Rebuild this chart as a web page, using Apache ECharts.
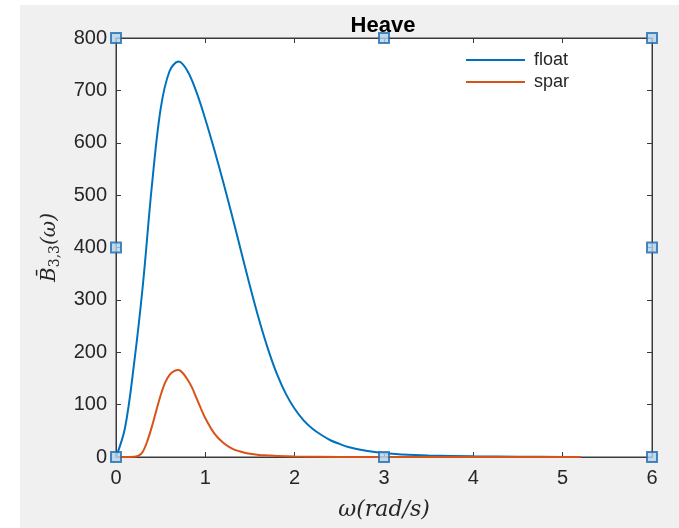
<!DOCTYPE html>
<html>
<head>
<meta charset="utf-8">
<script src="https://cdn.jsdelivr.net/npm/echarts@6/dist/echarts.min.js"></script>
<style>
  html, body { margin: 0; padding: 0; background: #fff; }
  #panel { position: absolute; left: 20px; top: 5px; width: 659px; height: 523px; background: #f0f0f0; }
  #chart { position: absolute; left: 0; top: 0; width: 679px; height: 528px; }
</style>
</head>
<body>
<div id="panel"></div>
<div id="chart"></div>
<script>
// float curve (omega, B33)
var floatX = [0, 0.1, 0.2, 0.3, 0.4, 0.5, 0.6, 0.7, 0.8, 0.9, 1.0, 1.1, 1.2, 1.3, 1.4, 1.5, 1.6, 1.7, 1.8, 1.9, 2.0, 2.1, 2.2, 2.3, 2.4, 2.5, 2.6, 2.8, 3.0, 3.2, 3.5, 4.0, 4.5, 5.0, 5.2]
var floatY = [0, 55, 175, 327, 515, 665, 737, 755, 737, 697, 645, 587, 525, 460, 393, 326, 263, 207, 159, 121, 92, 70, 54, 42, 32, 25, 19, 12, 7.5, 5, 3, 1.2, 0.5, 0.2, 0.1]
// spar curve
var sparX = [0, 0.1, 0.2, 0.25, 0.3, 0.35, 0.4, 0.45, 0.5, 0.55, 0.6, 0.65, 0.7, 0.75, 0.8, 0.85, 0.9, 0.95, 1.0, 1.1, 1.2, 1.3, 1.4, 1.5, 1.6, 1.7, 1.8, 2.0, 2.5, 3.0, 4.0, 5.0, 5.2]
var sparY = [0, 0, 0.5, 2, 10, 30, 57, 88, 118, 142, 157, 164, 166, 160, 148, 133, 113, 93, 74, 45, 27, 16, 10, 6, 4, 3, 2, 1, 0.2, 0, 0, 0, 0]
// figure edit handles (axes corners / mid-edges)
var handles = [[0, 0], [3, 0], [6, 0], [0, 400], [6, 400], [0, 800], [3, 800], [6, 800]]

var xTicks = [0, 1, 2, 3, 4, 5, 6]
var yTicks = [0, 100, 200, 300, 400, 500, 600, 700, 800]

function pairs(xs, ys) {
  return xs.map(function (x, i) { return [x, ys[i]] })
}

var chart = echarts.init(document.getElementById('chart'))
var axisColor = '#3a3a3a'
var labelColor = '#262626'
var font = 'Liberation Sans, Arial, sans-serif'
var serif = 'DejaVu Serif, serif'

var baseX = {
  type: 'value',
  min: xTicks[0],
  max: xTicks[xTicks.length - 1],
  interval: 1,
  splitLine: { show: false },
  axisLine: { show: true, onZero: false, lineStyle: { color: axisColor, width: 1 } },
  axisTick: { show: true, inside: true, length: 5, lineStyle: { color: axisColor } }
}
var baseY = {
  type: 'value',
  min: yTicks[0],
  max: yTicks[yTicks.length - 1],
  interval: 100,
  splitLine: { show: false },
  axisLine: { show: true, onZero: false, lineStyle: { color: axisColor, width: 1 } },
  axisTick: { show: true, inside: true, length: 5, lineStyle: { color: axisColor } }
}

chart.setOption({
  animation: false,
  backgroundColor: 'transparent',
  title: {
    text: 'Heave',
    left: 378,
    top: 10,
    textAlign: 'center',
    textStyle: { fontFamily: font, fontSize: 22, fontWeight: 'bold', color: '#000' }
  },
  legend: {
    orient: 'vertical',
    left: 460,
    top: 46,
    itemWidth: 59,
    itemHeight: 2,
    itemGap: 4,
    data: ['float', 'spar'],
    textStyle: { fontFamily: font, fontSize: 18, color: labelColor, padding: [0, 0, 0, 4] }
  },
  grid: {
    left: 116,
    right: 27,
    top: 38,
    bottom: 71,
    show: true,
    backgroundColor: '#fff',
    borderColor: axisColor,
    borderWidth: 1
  },
  xAxis: [
    Object.assign({}, baseX, {
      position: 'bottom',
      name: 'ω(rad/s)',
      nameLocation: 'middle',
      nameGap: 42,
      nameTextStyle: { fontFamily: serif, fontStyle: 'italic', fontSize: 22, color: labelColor },
      axisLabel: { fontFamily: font, fontSize: 20, color: labelColor, margin: 11 }
    }),
    Object.assign({}, baseX, { position: 'top', axisLabel: { show: false } })
  ],
  yAxis: [
    Object.assign({}, baseY, {
      position: 'left',
      name: '{b|B\u0304}{s|3,3}{b|(ω)}',
      nameLocation: 'middle',
      nameGap: 54,
      nameRotate: 90,
      nameTextStyle: {
        rich: {
          b: { fontFamily: serif, fontStyle: 'italic', fontSize: 20, color: labelColor },
          s: { fontFamily: serif, fontSize: 14, color: labelColor, padding: [11, 0, 0, 0] }
        }
      },
      axisLabel: { fontFamily: font, fontSize: 20, color: labelColor, margin: 9 }
    }),
    Object.assign({}, baseY, { position: 'right', axisLabel: { show: false } })
  ],
  series: [
    {
      name: 'float',
      type: 'line',
      data: pairs(floatX, floatY),
      smooth: 0.35,
      symbol: 'none',
      lineStyle: { color: '#0072BD', width: 2 },
      itemStyle: { color: '#0072BD' }
    },
    {
      name: 'spar',
      type: 'line',
      data: pairs(sparX, sparY),
      smooth: 0.3,
      symbol: 'none',
      lineStyle: { color: '#D95319', width: 2 },
      itemStyle: { color: '#D95319' }
    },
    {
      name: 'handles',
      type: 'scatter',
      data: handles,
      symbol: 'rect',
      symbolSize: 10,
      clip: false,
      z: 10,
      silent: true,
      itemStyle: { color: '#b3d3ef', borderColor: '#1f6aad', borderWidth: 2 }
    }
  ]
})
</script>
</body>
</html>
